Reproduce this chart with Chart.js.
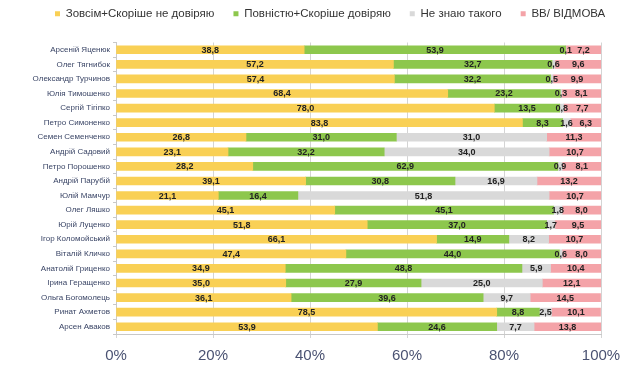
<!DOCTYPE html>
<html lang="uk">
  <head>
    <meta charset="UTF-8" />
    <title>Довіра до політиків</title>
    <script src="https://cdn.jsdelivr.net/npm/chart.js"></script>
    <style>
      body { margin: 0; background: #fff; }
      #wrap { width: 640px; height: 375px; }
    </style>
  </head>
  <body>
    <div id="wrap"><canvas id="trustChart" width="640" height="375"></canvas></div>

    <script>
      // Data
      const politicians = [
        "Арсеній Яценюк", "Олег Тягнибок", "Олександр Турчинов", "Юлія Тимошенко",
        "Сергій Тігіпко", "Петро Симоненко", "Семен Семенченко", "Андрій Садовий",
        "Петро Порошенко", "Андрій Парубій", "Юлій Мамчур", "Олег Ляшко",
        "Юрій Луценко", "Ігор Коломойський", "Віталій Кличко", "Анатолій Гриценко",
        "Ірина Геращенко", "Ольга Богомолець", "Ринат Ахметов", "Арсен Аваков"
      ];
      const distrust = [38.8, 57.2, 57.4, 68.4, 78.0, 83.8, 26.8, 23.1, 28.2, 39.1, 21.1, 45.1, 51.8, 66.1, 47.4, 34.9, 35.0, 36.1, 78.5, 53.9];
      const trust = [53.9, 32.7, 32.2, 23.2, 13.5, 8.3, 31.0, 32.2, 62.9, 30.8, 16.4, 45.1, 37.0, 14.9, 44.0, 48.8, 27.9, 39.6, 8.8, 24.6];
      const unknown = [0.1, 0.6, 0.5, 0.3, 0.8, 1.6, 31.0, 34.0, 0.9, 16.9, 51.8, 1.8, 1.7, 8.2, 0.6, 5.9, 25.0, 9.7, 2.5, 7.7];
      const refused = [7.2, 9.6, 9.9, 8.1, 7.7, 6.3, 11.3, 10.7, 8.1, 13.2, 10.7, 8.0, 9.5, 10.7, 8.0, 10.4, 12.1, 14.5, 10.1, 13.8];
      const seriesNames = ["Зовсім+Скоріше не довіряю", "Повністю+Скоріше довіряю", "Не знаю такого", "ВВ/ ВІДМОВА"];
      const xTicks = [0, 20, 40, 60, 80, 100];

      // simple value labels in the middle of each segment
      const segmentLabels = {
        id: "segmentLabels",
        afterDatasetsDraw(chart) {
          const c = chart.ctx;
          c.save();
          c.font = "bold 9px 'Liberation Sans', Arial, sans-serif";
          c.fillStyle = "#222";
          c.textAlign = "center";
          c.textBaseline = "middle";
          chart.data.datasets.forEach((ds, i) => {
            chart.getDatasetMeta(i).data.forEach((bar, j) => {
              const v = ds.data[j];
              const cx = (bar.x + bar.base) / 2;
              c.fillText(v.toFixed(1).replace(".", ","), cx, bar.y + 0.5);
            });
          });
          c.restore();
        },
      };

      // legend in the picture is not centred on the canvas and sits higher, nudge it
      const legendShift = {
        id: "legendShift",
        beforeDraw(chart) {
          chart.legend.left = 36;
          chart.legend.top = chart.legend.top - 13;
        },
      };

      const colors = ["#f9d055", "#8dc74d", "#d9d9d9", "#f4a3a8"];
      const values = [distrust, trust, unknown, refused];

      new Chart(document.getElementById("trustChart"), {
        type: "bar",
        data: {
          labels: politicians,
          datasets: seriesNames.map((name, i) => ({
            label: name,
            data: values[i],
            backgroundColor: colors[i],
            barThickness: 8,
          })),
        },
        plugins: [segmentLabels, legendShift],
        options: {
          indexAxis: "y",
          responsive: false,
          animation: false,
          layout: { padding: { left: 0, right: 0, top: 2, bottom: 1 } },
          scales: {
            x: {
              stacked: true,
              min: 0,
              max: 100,
              afterBuildTicks: (axis) => {
                axis.ticks = xTicks.map((v) => ({ value: v }));
              },
              ticks: {
                callback: (v) => v + "%",
                color: "#4a5272",
                font: { family: "'Liberation Sans', Arial", size: 15 },
                padding: 9,
              },
              grid: { color: "#d4d4d4", tickLength: 4 },
              border: { color: "#c8c8c8" },
            },
            y: {
              stacked: true,
              afterFit: (axis) => { axis.width = 116; },
              ticks: {
                color: "#3a4566",
                font: { family: "'Liberation Sans', Arial", size: 8 },
                padding: 3,
              },
              grid: { drawOnChartArea: false, offset: true, tickLength: 3, color: "#c8c8c8" },
              border: { color: "#c8c8c8" },
            },
            // empty right axis just to keep the white margin on the right
            yRight: {
              type: "category",
              axis: "y",
              position: "right",
              afterFit: (axis) => { axis.width = 39; },
              ticks: { display: false },
              grid: { display: false },
              border: { display: false },
            },
          },
          plugins: {
            legend: {
              position: "top",
              align: "start",
              labels: {
                boxWidth: 5,
                boxHeight: 5,
                padding: 19,
                color: "#333",
                font: { family: "'Liberation Sans', Arial", size: 11.5 },
              },
            },
            tooltip: { enabled: false },
          },
        },
      });
    </script>
  </body>
</html>
